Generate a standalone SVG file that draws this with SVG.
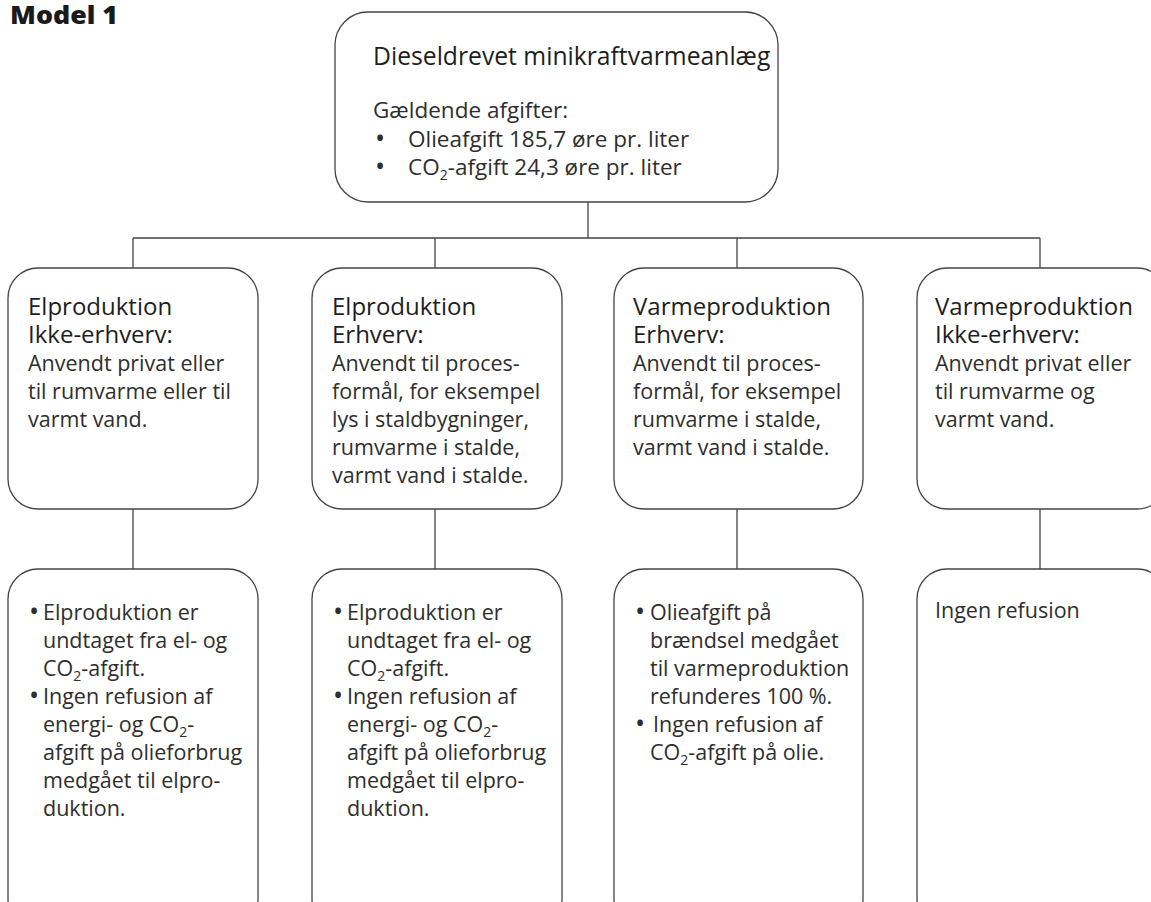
<svg xmlns="http://www.w3.org/2000/svg" width="1151" height="902" viewBox="0 0 1151 902">
<style>
.box{fill:#fff;stroke:#444;stroke-width:1.3}
.con{fill:none;stroke:#444;stroke-width:1.3}
text{font-family:"Open Sans","Noto Sans","DejaVu Sans",sans-serif;fill:#2a2a2a}
.h{font-size:24px;fill:#1e1e1e}
.th{font-size:24.7px;fill:#1e1e1e}
.tb{font-size:22.5px;fill:#2e2e2e}
.b{font-size:21.5px;fill:#2e2e2e}
.t{font-family:"Open Sans","Liberation Sans",sans-serif;font-weight:900;font-size:24px;fill:#1a1a1a}
.s{font-size:14px}
.d{font-size:27px}
</style>
<rect width="1151" height="902" fill="#fff"/>
<text class="t" x="10" y="24" textLength="108" lengthAdjust="spacingAndGlyphs">Model 1</text>
<g id="connectors">
<path class="con" d="M588 202V238M133 238H1040M133 238V268M435 238V268M737 238V268M1040 238V268"/>
<path class="con" d="M133 509V569M435 509V569M737 509V569M1040 509V569"/>
</g>
<g id="root">
<rect class="box" x="335" y="12" width="443" height="190" rx="33"/>
<text class="th" x="373" y="65">Dieseldrevet minikraftvarmeanlæg</text>
<text class="tb" x="373" y="118">Gældende afgifter:</text>
<text class="tb" x="375" y="148"><tspan class="d">•</tspan><tspan x="408" y="147">Olieafgift 185,7 øre pr. liter</tspan></text>
<text class="tb" x="375" y="176"><tspan class="d">•</tspan><tspan x="408" y="175">CO</tspan><tspan class="s" dy="5">2</tspan><tspan dy="-5">-afgift 24,3 øre pr. liter</tspan></text>
</g>
<g id="el-ikke-erhverv">
<rect class="box" x="8" y="268" width="250" height="241" rx="30"/>
<text class="h" x="28" y="315">Elproduktion</text>
<text class="h" x="28" y="343">Ikke-erhverv:</text>
<text class="b" x="28" y="371">Anvendt privat eller</text>
<text class="b" x="28" y="399">til rumvarme eller til</text>
<text class="b" x="28" y="427">varmt vand.</text>
</g>
<g id="el-erhverv">
<rect class="box" x="312" y="268" width="250" height="241" rx="30"/>
<text class="h" x="332" y="315">Elproduktion</text>
<text class="h" x="332" y="343">Erhverv:</text>
<text class="b" x="332" y="371">Anvendt til proces-</text>
<text class="b" x="332" y="399">formål, for eksempel</text>
<text class="b" x="332" y="427">lys i staldbygninger,</text>
<text class="b" x="332" y="455">rumvarme i stalde,</text>
<text class="b" x="332" y="483">varmt vand i stalde.</text>
</g>
<g id="varme-erhverv">
<rect class="box" x="614" y="268" width="249" height="241" rx="30"/>
<text class="h" x="633" y="315">Varmeproduktion</text>
<text class="h" x="633" y="343">Erhverv:</text>
<text class="b" x="633" y="371">Anvendt til proces-</text>
<text class="b" x="633" y="399">formål, for eksempel</text>
<text class="b" x="633" y="427">rumvarme i stalde,</text>
<text class="b" x="633" y="455">varmt vand i stalde.</text>
</g>
<g id="varme-ikke-erhverv">
<rect class="box" x="917" y="268" width="250" height="241" rx="30"/>
<text class="h" x="935" y="315">Varmeproduktion</text>
<text class="h" x="935" y="343">Ikke-erhverv:</text>
<text class="b" x="935" y="371">Anvendt privat eller</text>
<text class="b" x="935" y="399">til rumvarme og</text>
<text class="b" x="935" y="427">varmt vand.</text>
</g>
<g id="el-ikke-erhverv-afgift">
<rect class="box" x="8" y="569" width="250" height="360" rx="30"/>
<text class="b" x="29" y="621"><tspan class="d">•</tspan><tspan x="43" y="620">Elproduktion er</tspan></text>
<text class="b" x="43" y="648">undtaget fra el- og</text>
<text class="b" x="43" y="676">CO<tspan class="s" dy="5">2</tspan><tspan dy="-5">-afgift.</tspan></text>
<text class="b" x="29" y="705"><tspan class="d">•</tspan><tspan x="43" y="704">Ingen refusion af</tspan></text>
<text class="b" x="43" y="732">energi- og CO<tspan class="s" dy="5">2</tspan><tspan dy="-5">-</tspan></text>
<text class="b" x="43" y="760">afgift på olieforbrug</text>
<text class="b" x="43" y="788">medgået til elpro-</text>
<text class="b" x="43" y="816">duktion.</text>
</g>
<g id="el-erhverv-afgift">
<rect class="box" x="312" y="569" width="250" height="360" rx="30"/>
<text class="b" x="333" y="621"><tspan class="d">•</tspan><tspan x="347" y="620">Elproduktion er</tspan></text>
<text class="b" x="347" y="648">undtaget fra el- og</text>
<text class="b" x="347" y="676">CO<tspan class="s" dy="5">2</tspan><tspan dy="-5">-afgift.</tspan></text>
<text class="b" x="333" y="705"><tspan class="d">•</tspan><tspan x="347" y="704">Ingen refusion af</tspan></text>
<text class="b" x="347" y="732">energi- og CO<tspan class="s" dy="5">2</tspan><tspan dy="-5">-</tspan></text>
<text class="b" x="347" y="760">afgift på olieforbrug</text>
<text class="b" x="347" y="788">medgået til elpro-</text>
<text class="b" x="347" y="816">duktion.</text>
</g>
<g id="varme-erhverv-afgift">
<rect class="box" x="614" y="569" width="249" height="360" rx="30"/>
<text class="b" x="635" y="621"><tspan class="d">•</tspan><tspan x="650" y="620">Olieafgift på</tspan></text>
<text class="b" x="650" y="648">brændsel medgået</text>
<text class="b" x="650" y="676">til varmeproduktion</text>
<text class="b" x="650" y="704">refunderes 100 %.</text>
<text class="b" x="635" y="733"><tspan class="d">•</tspan><tspan x="653" y="732">Ingen refusion af</tspan></text>
<text class="b" x="650" y="760">CO<tspan class="s" dy="5">2</tspan><tspan dy="-5">-afgift på olie.</tspan></text>
</g>
<g id="varme-ikke-erhverv-afgift">
<rect class="box" x="917" y="569" width="250" height="360" rx="30"/>
<text class="b" x="935" y="618">Ingen refusion</text>
</g>
</svg>
